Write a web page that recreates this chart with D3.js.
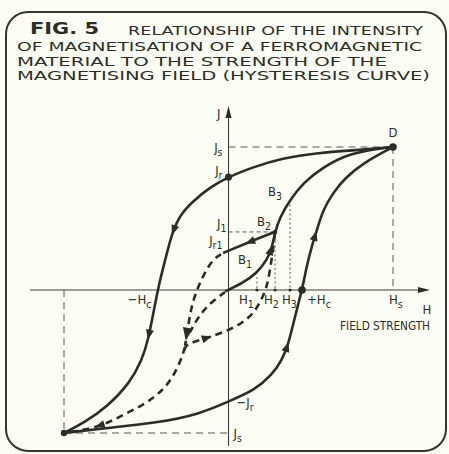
<!DOCTYPE html>
<html lang="en">
<head>
<meta charset="UTF-8">
<script src="https://cdn.jsdelivr.net/npm/d3@7"></script>
<title>Hysteresis curve</title>
<style>
    html, body { margin: 0; padding: 0; background: #fcfdf4; }
    svg { display: block; }
    .lbl { font-family: "Liberation Sans Narrow", "DejaVu Sans Condensed", sans-serif; font-size: 13px; fill: #2b2e27; }
    .title { font-family: "DejaVu Sans", sans-serif; font-size: 12.5px; fill: #2b2e27; }
</style>
</head>
<body>
<div id="chart"></div>
<script>
    /*------------------- data (H, J in units of Hs, Js) -------------------*/
    const titleLines = [
        "RELATIONSHIP OF THE INTENSITY",
        "OF MAGNETISATION OF A FERROMAGNETIC",
        "MATERIAL TO THE STRENGTH OF THE",
        "MAGNETISING FIELD (HYSTERESIS CURVE)"
    ];

    // main loop, descending from D to -Js
    const descending = [[1, 1], [0.80, 0.98], [0.538, 0.958], [0.331, 0.923], [0.131, 0.853], [0, 0.79],
        [-0.112, 0.72], [-0.222, 0.615], [-0.295, 0.524], [-0.343, 0.399], [-0.374, 0.259], [-0.404, 0.126],
        [-0.43, 0], [-0.459, -0.175], [-0.489, -0.35], [-0.526, -0.49], [-0.599, -0.65], [-0.739, -0.818],
        [-0.872, -0.923], [-1, -1]];
    // main loop, ascending from -Js back to D
    const ascending = [[-1, -1], [-0.739, -0.965], [-0.435, -0.93], [-0.173, -0.867], [0, -0.78],
        [0.161, -0.699], [0.264, -0.594], [0.325, -0.49], [0.362, -0.385], [0.392, -0.245], [0.422, -0.105],
        [0.447, 0], [0.477, 0.175], [0.508, 0.315], [0.538, 0.42], [0.574, 0.559], [0.635, 0.678],
        [0.708, 0.783], [0.818, 0.888], [1, 1]];
    // initial magnetisation curve
    const initial = [[-0.02, -0.01], [0.088, 0.049], [0.173, 0.119], [0.234, 0.21], [0.264, 0.294],
        [0.283, 0.406], [0.313, 0.51], [0.374, 0.629], [0.453, 0.748], [0.574, 0.86], [0.739, 0.958],
        [0.939, 0.993], [1, 1]];
    // minor loop
    const recoil = [[0.283, 0.406], [0.131, 0.338], [-0.033, 0.259]];
    const dashFromJr1 = [[-0.045, 0.25], [-0.094, 0.217], [-0.161, 0.091], [-0.216, -0.07], [-0.24, -0.21], [-0.264, -0.39]];
    const dashFromOrigin = [[-0.021, -0.014], [-0.112, -0.091], [-0.185, -0.189], [-0.234, -0.294]];
    const dashToSaturation = [[-0.264, -0.399], [-0.289, -0.49], [-0.337, -0.608], [-0.398, -0.699],
        [-0.495, -0.79], [-0.641, -0.874], [-0.781, -0.958], [-0.964, -0.993]];
    const dashReturn = [[-0.27, -0.42], [-0.255, -0.385], [-0.234, -0.371], [-0.131, -0.336], [0.009, -0.28],
        [0.131, -0.196], [0.192, -0.091], [0.234, 0.021], [0.252, 0.14], [0.271, 0.28], [0.283, 0.406]];

    const Hc = [-0.43, 0.447];
    const Jr = [0.79, -0.78];
    const Hmarks = [0.173, 0.283, 0.374];   // H1, H2, H3
    const J1 = 0.406, Jr1 = 0.259;
    const B1 = [0.173, 0.119], B2 = [0.283, 0.406], B3 = [0.374, 0.629];

    // arrowheads: curve name and approximate place
    const arrows = [
        { curve: "descending", at: [-0.343, 0.42] },
        { curve: "descending", at: [-0.483, -0.315] },
        { curve: "ascending", at: [0.362, -0.4] },
        { curve: "ascending", at: [0.532, 0.378] },
        { curve: "recoil", at: [0.131, 0.338] },
        { curve: "dashFromJr1", at: [-0.255, -0.31], big: true },
        { curve: "dashReturn", at: [-0.131, -0.336] },
        { curve: "initial", at: [0.258, 0.28] },
        { curve: "dashToSaturation", at: [-0.781, -0.958] }
    ];

    /*------------------- setup -------------------*/
    const W = 449, H = 454;
    const ink = "#2b2e27";
    const svg = d3.select("#chart").append("svg").attr("width", W).attr("height", H);

    const x = d3.scaleLinear().domain([-1, 1]).range([64, 393]);
    const y = d3.scaleLinear().domain([-1, 1]).range([433, 147]);

    // frame
    svg.append("rect").attr("x", 6).attr("y", 12).attr("width", 440).attr("height", 439)
        .attr("rx", 22).attr("fill", "none").attr("stroke", "#33362e").attr("stroke-width", 2);

    // title
    svg.append("text").attr("class", "title").attr("x", 30).attr("y", 34)
        .style("font-weight", "bold").style("font-size", "15.5px")
        .attr("textLength", 69).attr("lengthAdjust", "spacingAndGlyphs").text("FIG. 5");
    const titlePos = [[128, 35, 295], [17, 51, 405], [17, 66, 370], [17, 80, 413]];
    titleLines.forEach((t, i) => {
        svg.append("text").attr("class", "title")
            .attr("x", titlePos[i][0]).attr("y", titlePos[i][1])
            .attr("textLength", titlePos[i][2]).attr("lengthAdjust", "spacingAndGlyphs")
            .text(t);
    });

    /*------------------- guides -------------------*/
    const guide = svg.append("g").attr("stroke", "#555a50").attr("stroke-width", 1).attr("fill", "none");
    guide.append("line").attr("x1", x(0)).attr("x2", x(1)).attr("y1", y(1)).attr("y2", y(1)).attr("stroke-dasharray", "7,5");
    guide.append("line").attr("x1", x(1)).attr("x2", x(1)).attr("y1", y(1)).attr("y2", y(0)).attr("stroke-dasharray", "7,5");
    guide.append("line").attr("x1", x(-1)).attr("x2", x(-1)).attr("y1", y(0)).attr("y2", y(-1)).attr("stroke-dasharray", "7,5");
    guide.append("line").attr("x1", x(-1)).attr("x2", x(0)).attr("y1", y(-1)).attr("y2", y(-1)).attr("stroke-dasharray", "7,5");
    guide.append("line").attr("x1", x(0)).attr("x2", x(B2[0])).attr("y1", y(J1)).attr("y2", y(J1)).attr("stroke-dasharray", "4,3");
    guide.append("line").attr("x1", x(B2[0])).attr("x2", x(B2[0])).attr("y1", y(B2[1])).attr("y2", y(0)).attr("stroke-dasharray", "2,2.5");
    guide.append("line").attr("x1", x(B3[0])).attr("x2", x(B3[0])).attr("y1", y(B3[1])).attr("y2", y(0)).attr("stroke-dasharray", "2,2.5");
    guide.append("line").attr("x1", x(B1[0])).attr("x2", x(B1[0])).attr("y1", y(B1[1]) + 4).attr("y2", y(0)).attr("stroke-dasharray", "2,2.5");

    /*------------------- axes -------------------*/
    const axes = svg.append("g").attr("stroke", "#3a3d35").attr("stroke-width", 1.1);
    axes.append("line").attr("x1", 30).attr("x2", 424).attr("y1", y(0)).attr("y2", y(0));
    axes.append("line").attr("x1", x(0)).attr("x2", x(0)).attr("y1", 112).attr("y2", 446);
    svg.append("path").attr("fill", ink)
        .attr("d", `M${x(0)},106 L${x(0) - 3},118 L${x(0) + 3},118 Z`);
    svg.append("path").attr("fill", ink)
        .attr("d", `M430,${y(0)} L418,${y(0) - 3} L418,${y(0) + 3} Z`);

    /*------------------- curves -------------------*/
    const line = d3.line().x(d => x(d[0])).y(d => y(d[1])).curve(d3.curveBasis);
    const curves = {
        descending: { pts: descending, dash: null },
        ascending: { pts: ascending, dash: null },
        initial: { pts: initial, dash: null },
        recoil: { pts: recoil, dash: null },
        dashFromJr1: { pts: dashFromJr1, dash: "7,5" },
        dashFromOrigin: { pts: dashFromOrigin, dash: "7,5" },
        dashToSaturation: { pts: dashToSaturation, dash: "7,5" },
        dashReturn: { pts: dashReturn, dash: "7,5" }
    };
    const curveG = svg.append("g").attr("fill", "none").attr("stroke", ink)
        .attr("stroke-width", 2.6).attr("stroke-linecap", "butt");
    Object.entries(curves).forEach(([name, c]) => {
        c.node = curveG.append("path").attr("d", line(c.pts))
            .attr("stroke-dasharray", c.dash).node();
    });

    // arrowheads placed along curves
    arrows.forEach(a => {
        const p = curves[a.curve].node;
        const len = p.getTotalLength();
        const tx = x(a.at[0]), ty = y(a.at[1]);
        let best = 0, bd = Infinity;
        for (let l = 0; l <= len; l += 0.5) {
            const q = p.getPointAtLength(l);
            const dd = (q.x - tx) ** 2 + (q.y - ty) ** 2;
            if (dd < bd) { bd = dd; best = l; }
        }
        const p0 = p.getPointAtLength(Math.max(0, best - 2));
        const p1 = p.getPointAtLength(Math.min(len, best + 2));
        const ang = Math.atan2(p1.y - p0.y, p1.x - p0.x) * 180 / Math.PI;
        const c = p.getPointAtLength(best);
        const L = a.big ? 13 : 10, w = a.big ? 5 : 4;
        svg.append("path").attr("fill", ink)
            .attr("d", `M${L / 2},0 L${-L / 2},${-w} L${-L / 2},${w} Z`)
            .attr("transform", `translate(${c.x},${c.y}) rotate(${ang})`);
    });

    /*------------------- points -------------------*/
    const dots = [
        [0, Jr[0], 3.6], [Hc[1], 0, 3.8], [1, 1, 3.8], [-1, -1, 3.2], [B2[0], B2[1], 2.2],
        [Hmarks[0], 0, 1.6], [Hmarks[1], 0, 1.6], [Hmarks[2], 0, 1.6]
    ];
    svg.selectAll("circle.dot").data(dots).enter().append("circle")
        .attr("class", "dot").attr("cx", d => x(d[0])).attr("cy", d => y(d[1])).attr("r", d => d[2])
        .attr("fill", ink);

    /*------------------- labels -------------------*/
    function label(main, sub, px, py, anchor) {
        const t = svg.append("text").attr("class", "lbl").attr("x", px).attr("y", py)
            .attr("text-anchor", anchor || "start");
        t.append("tspan").text(main);
        if (sub) t.append("tspan").attr("dy", 4).style("font-size", "10.5px").text(sub);
        return t;
    }
    label("J", null, x(0) - 8, 118, "end");
    label("J", "s", x(0) - 6, y(1) + 5, "end");
    label("J", "r", x(0) - 6, y(Jr[0]) - 2, "end");
    label("J", "1", x(0) - 2, y(J1) - 4, "end");
    label("J", "r1", x(0) - 6, y(Jr1) - 8, "end");
    label("B", "1", x(B1[0]) - 19, 264);
    label("B", "2", x(B2[0]) - 18, y(B2[1]) - 6);
    label("B", "3", x(B3[0]) - 22, y(B3[1]) - 4);
    label("D", null, x(1), y(1) - 10, "middle");
    label("H", "s", x(1) - 4, y(0) + 14);
    label("H", null, 427, y(0) + 24, "middle");
    label("+H", "c", x(Hc[1]) + 5, y(0) + 14);
    label("H", "1", x(Hmarks[0]) - 18, y(0) + 14);
    label("H", "2", x(Hmarks[1]) - 11, y(0) + 14);
    label("H", "3", x(Hmarks[2]) - 8, y(0) + 14);
    label("\u2212H", "c", x(Hc[0]) - 30, y(0) + 14);
    label("\u2212J", "r", x(0) + 8, y(Jr[1]) + 5);
    label("J", "s", x(0) + 5, y(-1) + 5);
    svg.append("text").attr("class", "lbl").attr("x", 430).attr("y", 330)
        .attr("text-anchor", "end").attr("textLength", 90).attr("lengthAdjust", "spacingAndGlyphs")
        .text("FIELD STRENGTH");
</script>
</body>
</html>
